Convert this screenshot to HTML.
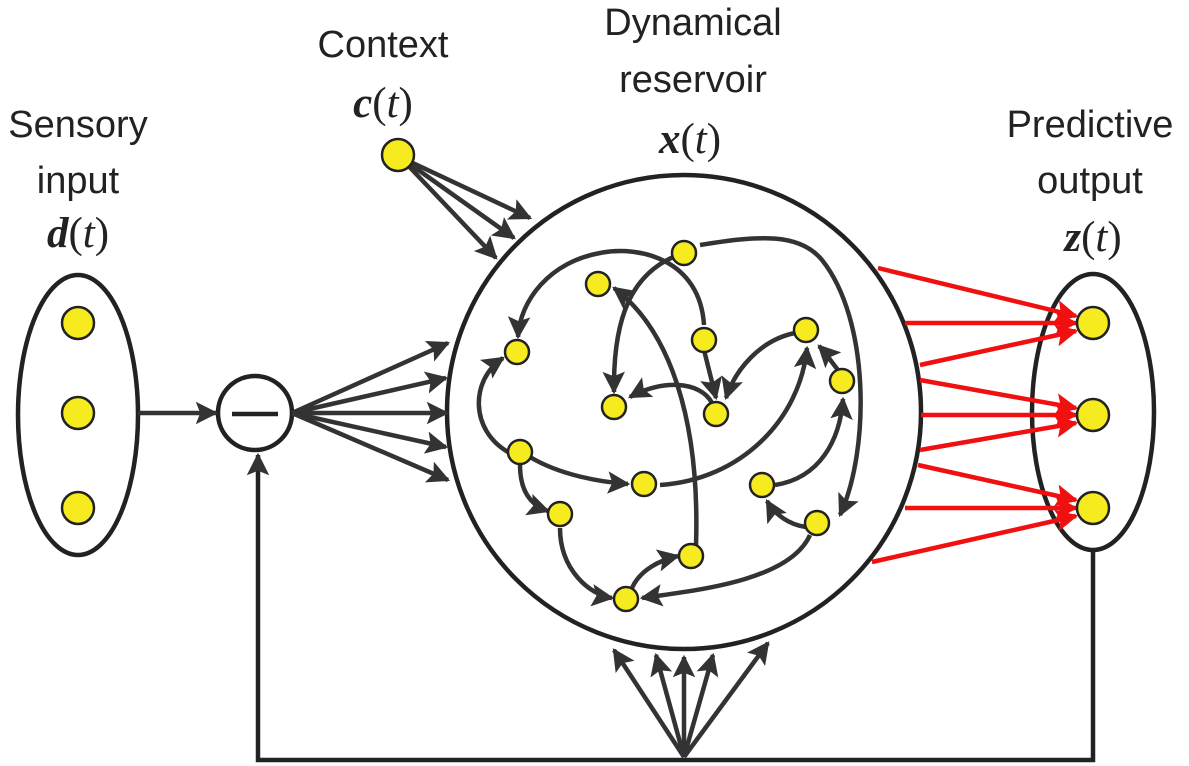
<!DOCTYPE html>
<html><head><meta charset="utf-8"><style>
html,body{margin:0;padding:0;background:#fff;}
svg{display:block}
.t{font-family:"Liberation Sans",sans-serif;font-size:38px;fill:#222;text-anchor:middle}
.m{font-family:"Liberation Serif",serif;font-size:43px;fill:#222;text-anchor:middle;font-style:italic}
</style></head><body>
<svg width="1189" height="766" viewBox="0 0 1189 766" xmlns="http://www.w3.org/2000/svg">
<defs>
<marker id="a" viewBox="0 0 10 10" refX="9" refY="5" markerWidth="5" markerHeight="5" orient="auto" markerUnits="strokeWidth"><path d="M0,0 L10,5 L0,10 L2,5z" fill="#333"/></marker>
<marker id="r" viewBox="0 0 10 10" refX="9" refY="5" markerWidth="5" markerHeight="5" orient="auto" markerUnits="strokeWidth"><path d="M0,0 L10,5 L0,10 L2,5z" fill="#f01010"/></marker>
</defs>
<text class="t" x="78" y="137">Sensory</text>
<text class="t" x="78" y="193">input</text>
<text class="m" x="78" y="247"><tspan font-weight="bold">d</tspan><tspan font-style="normal">(</tspan>t<tspan font-style="normal">)</tspan></text>
<text class="t" x="383" y="57">Context</text>
<text class="m" x="383" y="117"><tspan font-weight="bold">c</tspan><tspan font-style="normal">(</tspan>t<tspan font-style="normal">)</tspan></text>
<text class="t" x="693" y="35">Dynamical</text>
<text class="t" x="693" y="92">reservoir</text>
<text class="m" x="690" y="153"><tspan font-weight="bold">x</tspan><tspan font-style="normal">(</tspan>t<tspan font-style="normal">)</tspan></text>
<text class="t" x="1090" y="137">Predictive</text>
<text class="t" x="1090" y="193">output</text>
<text class="m" x="1093" y="251"><tspan font-weight="bold">z</tspan><tspan font-style="normal">(</tspan>t<tspan font-style="normal">)</tspan></text>

<g fill="none" stroke="#222" stroke-width="4.5">
<ellipse cx="78" cy="415" rx="60" ry="140"/>
<ellipse cx="1093" cy="412" rx="61" ry="138"/>
<circle cx="684" cy="412" r="237"/>
<circle cx="255" cy="413" r="37"/>
<line x1="232" y1="414" x2="278" y2="414"/>
<polyline points="1093,550 1093,760 258,760 258,455" marker-end="url(#a)"/>
</g>
<g fill="none" stroke="#333" stroke-width="4.5" marker-end="url(#a)">
<line x1="138" y1="413" x2="216" y2="413"/>
<line x1="292" y1="413" x2="448" y2="343"/>
<line x1="292" y1="413" x2="446" y2="378"/>
<line x1="292" y1="413" x2="447" y2="413"/>
<line x1="292" y1="413" x2="446" y2="447"/>
<line x1="292" y1="413" x2="448" y2="480"/>
<line x1="400" y1="157" x2="530" y2="218"/>
<line x1="400" y1="157" x2="514" y2="238"/>
<line x1="400" y1="157" x2="496" y2="258"/>
<line x1="684" y1="757" x2="614" y2="650"/>
<line x1="684" y1="757" x2="656" y2="655"/>
<line x1="684" y1="757" x2="684" y2="657"/>
<line x1="684" y1="757" x2="713" y2="655"/>
<line x1="684" y1="757" x2="768" y2="643"/>
<path d="M684,253 C630,270 613,320 614,392"/>
<path d="M700,245 C760,235 800,233 822,260 C870,320 870,450 840,515"/>
<path d="M704,325 C700,260 640,245 600,253 C550,262 520,300 518,337"/>
<path d="M704,350 L716,398"/>
<path d="M795,333 C760,340 735,370 726,398"/>
<path d="M712,403 C700,380 660,380 630,397"/>
<path d="M696,545 C700,420 670,330 614,288"/>
<path d="M508,452 C470,430 470,380 503,358"/>
<path d="M530,457 C560,475 600,482 628,484"/>
<path d="M660,485 C740,480 800,420 807,348"/>
<path d="M520,465 C520,490 530,505 548,511"/>
<path d="M560,528 C560,570 590,595 612,598"/>
<path d="M632,588 C640,570 660,560 678,556"/>
<path d="M810,535 C790,580 700,590 642,598"/>
<path d="M806,527 C790,525 775,515 767,501"/>
<path d="M775,485 C820,478 840,440 843,399"/>
<path d="M838,370 C830,360 825,352 819,346"/>
</g>
<g fill="none" stroke="#f01010" stroke-width="4.5" marker-end="url(#r)">
<line x1="878" y1="268" x2="1076" y2="316"/>
<line x1="905" y1="323" x2="1076" y2="323"/>
<line x1="920" y1="365" x2="1076" y2="331"/>
<line x1="920" y1="380" x2="1076" y2="408"/>
<line x1="921" y1="415" x2="1076" y2="415"/>
<line x1="920" y1="450" x2="1076" y2="423"/>
<line x1="918" y1="465" x2="1076" y2="500"/>
<line x1="905" y1="508" x2="1076" y2="508"/>
<line x1="872" y1="562" x2="1076" y2="516"/>
</g>
<g fill="#f5eb1e" stroke="#222" stroke-width="2.5">
<circle cx="78" cy="323" r="16"/><circle cx="78" cy="413" r="16"/><circle cx="78" cy="508" r="16"/>
<circle cx="1093" cy="323" r="16"/><circle cx="1093" cy="415" r="16"/><circle cx="1093" cy="508" r="16"/>
<circle cx="398" cy="155" r="16"/>
<circle cx="684" cy="253" r="12"/><circle cx="598" cy="284" r="12"/><circle cx="704" cy="340" r="12"/>
<circle cx="517" cy="352" r="12"/><circle cx="806" cy="330" r="12"/><circle cx="842" cy="381" r="12"/>
<circle cx="614" cy="407" r="12"/><circle cx="716" cy="414" r="12"/><circle cx="520" cy="452" r="12"/>
<circle cx="644" cy="484" r="12"/><circle cx="762" cy="485" r="12"/><circle cx="560" cy="514" r="12"/>
<circle cx="817" cy="523" r="12"/><circle cx="691" cy="556" r="12"/><circle cx="626" cy="599" r="12"/>
</g>
</svg>
</body></html>
